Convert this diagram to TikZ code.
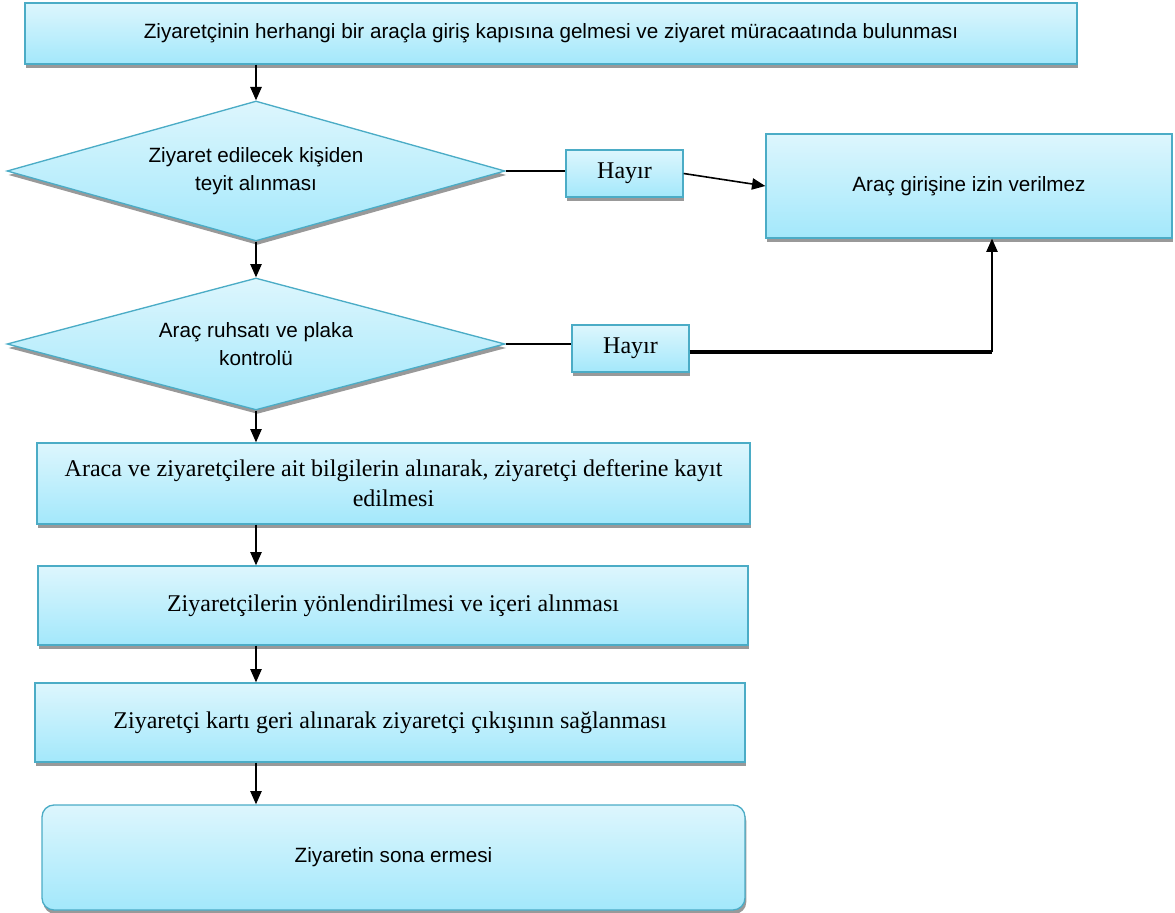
\documentclass[tikz,border=0pt]{standalone}
\usepackage{fontspec}
\setmainfont{Liberation Serif}
\setsansfont{Liberation Sans}
\usetikzlibrary{arrows.meta, shapes.geometric, shadows}
\definecolor{boxtop}{HTML}{DDF6FD}
\definecolor{boxbottom}{HTML}{A3E8FB}
\definecolor{boxline}{HTML}{4BACC6}

\begin{document}
\begin{tikzpicture}[
            x = 0.75pt, y = -0.75pt, % pixel grid, y pointing down
            > = {Triangle[length=10pt, width=8.5pt]}, % arrow head style
            line width = 1.2pt % line style
        ]

        \tikzstyle{flow}=[
            draw = boxline,
            line width = 1pt,
            top color = boxtop,
            bottom color = boxbottom,
            drop shadow = {shadow xshift=1pt, shadow yshift=-3pt, fill=black!40, opacity=1},
            align = center,
            inner sep = 0pt
        ]
        \tikzstyle{process}=[flow, rectangle]
        \tikzstyle{decision}=[flow, diamond, aspect=3.6]
        \tikzstyle{sanstext}=[font=\sffamily\fontsize{15.5}{21.5}\selectfont]
        \tikzstyle{serftext}=[font=\rmfamily\fontsize{18}{22.5}\selectfont]

        \useasboundingbox (0,0) rectangle (1175,913);

        \node[process, sanstext, minimum width=789pt, minimum height=45.75pt] (start) at (551,33.5)
            {Ziyaretçinin herhangi bir araçla giriş kapısına gelmesi ve ziyaret müracaatında bulunması};
        \node[decision, sanstext, minimum width=373.5pt, minimum height=105pt] (visit) at (256,171)
            {Ziyaret edilecek kişiden\\teyit alınması};
        \node[decision, sanstext, minimum width=373.5pt, minimum height=99pt] (plate) at (256,344)
            {Araç ruhsatı ve plaka\\kontrolü};
        \node[process, serftext, minimum width=87.75pt, minimum height=35.25pt] (no1) at (624.5,173.5) {Hayır};
        \node[process, serftext, minimum width=87.75pt, minimum height=35.25pt] (no2) at (630.5,348.5) {Hayır};
        \node[process, sanstext, minimum width=304.5pt, minimum height=78pt] (deny) at (969,186)
            {Araç girişine izin verilmez};
        \node[process, serftext, minimum width=534.75pt, minimum height=60.75pt] (record) at (393.5,483.5)
            {Araca ve ziyaretçilere ait bilgilerin alınarak, ziyaretçi defterine kayıt\\edilmesi};
        \node[process, serftext, minimum width=532.5pt, minimum height=59.25pt] (guide) at (393,605.5)
            {Ziyaretçilerin yönlendirilmesi ve içeri alınması};
        \node[process, serftext, minimum width=532.5pt, minimum height=59.25pt] (exit) at (390,722.5)
            {Ziyaretçi kartı geri alınarak ziyaretçi çıkışının sağlanması};
        \node[process, sanstext, rounded corners=9pt, minimum width=527.25pt, minimum height=78.75pt] (end) at (393.5,857.5)
            {Ziyaretin sona ermesi};

        \coordinate (corner) at (992,352);

	\draw[->] (start.south -| visit.north) -- (visit.north);
	\draw[->] (visit.south) -- (plate.north);
	\draw[->] (plate.south) -- (plate.south |- record.north);
	\draw[->] (record.south -| plate.south) -- (guide.north -| plate.south);
	\draw[->] (guide.south -| plate.south) -- (exit.north -| plate.south);
	\draw[->] (exit.south -| plate.south) -- (end.north -| plate.south);

	\draw[line width=0.8pt] (visit.east) -- (visit.east -| no1.west);
	\draw[->] (no1.east) -- (deny.west);
	\draw[line width=0.8pt] (plate.east) -- (plate.east -| no2.west);
	\draw[line width=3.5pt] (no2.east |- corner) -- (corner);
	\draw[->] (corner) -- (corner |- deny.south);
    \end{tikzpicture}
\end{document}
